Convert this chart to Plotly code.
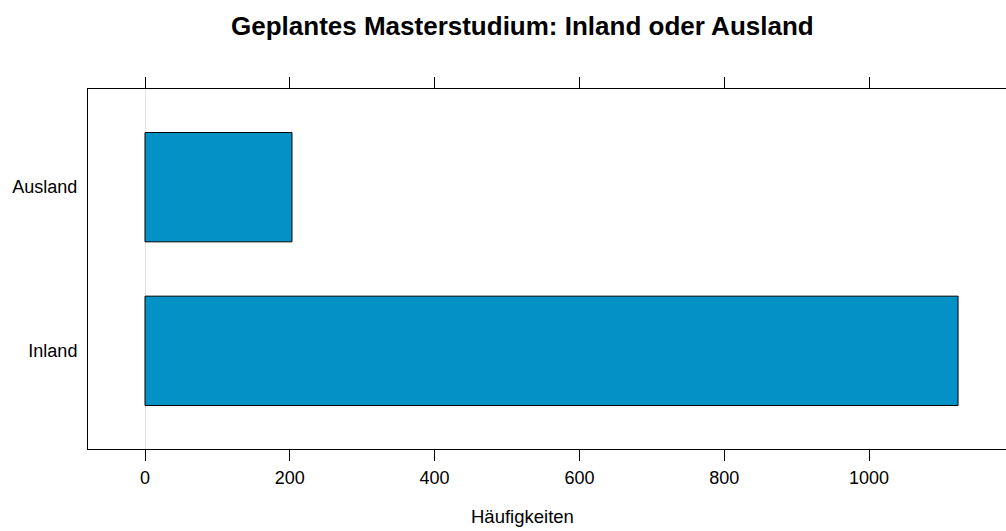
import plotly.graph_objects as go

categories = ["Inland", "Ausland"]
counts = [1123, 203]
x_ticks = [0, 200, 400, 600, 800, 1000]

title_text = "Geplantes Masterstudium: Inland oder Ausland"
x_label = "Häufigkeiten"

W, H = 1012, 531   # slightly wider than the window so the right frame edge is cut off
L, R, T, B = 88, 0, 89, 82

fig = go.Figure()
fig.add_trace(go.Bar(
    y=list(range(len(categories))),
    x=counts,
    orientation="h",
    width=0.668,
    marker=dict(color="#0391C6", line=dict(color="black", width=1)),
    showlegend=False,
))

pw = W - L - R
ph = H - T - B
px_per_unit = 0.724
x0_px = 145

fig.update_layout(
    width=W, height=H,
    margin=dict(l=L, r=R, t=T, b=B, pad=0),
    plot_bgcolor="white", paper_bgcolor="white",
    font=dict(family="Liberation Sans, Arial, sans-serif", color="black", size=18),
    xaxis=dict(
        range=[(L - x0_px) / px_per_unit, (W - R - x0_px) / px_per_unit],
        tickvals=x_ticks, ticktext=[str(v) for v in x_ticks],
        showgrid=False, showline=True, linecolor="black", linewidth=1,
        mirror="ticks", ticks="outside", ticklen=11, tickcolor="black", tickwidth=1,
        zeroline=True, zerolinecolor="#e3e3e3", zerolinewidth=1,
        ticklabelstandoff=1, tickfont=dict(size=18),
    ),
    yaxis=dict(
        range=[-0.6, 1.6], tickvals=list(range(len(categories))), ticktext=categories,
        showgrid=False, showline=True, linecolor="black", linewidth=1, mirror=False,
        ticks="", zeroline=False, ticklabelstandoff=6, tickfont=dict(size=18),
    ),
    annotations=[
        dict(text="<b>" + title_text + "</b>", x=(522 - L) / pw, y=(H - B - 26) / ph,
             xref="paper", yref="paper", yanchor="middle",
             showarrow=False, font=dict(size=26)),
        dict(text=x_label, x=(522 - L) / pw, y=-(516 - (H - B)) / ph,
             xref="paper", yref="paper", yanchor="middle",
             showarrow=False, font=dict(size=18.5)),
    ],
)

fig.write_html("out.html", config={"displayModeBar": False},
               post_script="document.body.style.margin='0';document.body.style.overflow='hidden';")
